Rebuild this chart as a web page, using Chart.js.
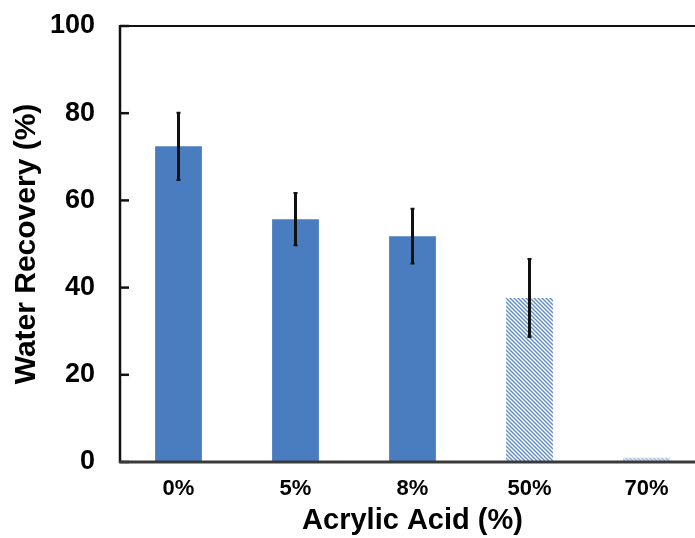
<!DOCTYPE html>
<html><head><meta charset="utf-8">
<script src="https://cdn.jsdelivr.net/npm/chart.js@4"></script>
<style>
html,body{margin:0;padding:0;overflow:hidden;background:#fff;width:695px;height:538px}
#wrap{position:relative;width:712px;height:538px}
canvas{display:block}
</style></head>
<body><div id="wrap"><canvas id="c" width="712" height="538"></canvas></div>
<script>
const categories = ['0%', '5%', '8%', '50%', '70%'];
const recovery = [72.4, 55.7, 51.8, 37.6, 1.0];
const errors = [7.7, 6.0, 6.3, 8.95, null];
const yTicks = [0, 20, 40, 60, 80, 100];
const yTitle = 'Water Recovery (%)';
const xTitle = 'Acrylic Acid (%)';

const FONT = '"Liberation Sans", Arial, sans-serif';
const SOLID = '#4a7dbf';

function hatch(color, bg) {
  const c = document.createElement('canvas');
  c.width = 4; c.height = 4;
  const g = c.getContext('2d');
  g.fillStyle = bg; g.fillRect(0, 0, 4, 4);
  g.strokeStyle = color; g.lineWidth = 1.4;
  g.beginPath();
  g.moveTo(-1, -1); g.lineTo(5, 5);
  g.moveTo(-1, 3); g.lineTo(1, 5);
  g.moveTo(3, -1); g.lineTo(5, 1);
  g.stroke();
  return g.createPattern(c, 'repeat');
}
const fills = [SOLID, SOLID, SOLID, hatch('#5f8dc9', '#ffffff'), hatch('#a9c0e2', '#e8eef7')];

const frame = {
  id: 'frame',
  afterDatasetsDraw(chart) {
    const ctx = chart.ctx, a = chart.chartArea, y = chart.scales.y;
    const meta = chart.getDatasetMeta(0);
    ctx.save();
    ctx.strokeStyle = '#111'; ctx.lineWidth = 3; ctx.lineCap = 'butt';
    errors.forEach((e, i) => {
      if (e == null) return;
      const x = meta.data[i].x;
      const t = y.getPixelForValue(recovery[i] + e), b = y.getPixelForValue(recovery[i] - e);
      ctx.beginPath(); ctx.moveTo(x, t); ctx.lineTo(x, b); ctx.stroke();
      ctx.lineWidth = 2;
      ctx.beginPath(); ctx.moveTo(x - 2, t); ctx.lineTo(x + 2, t);
      ctx.moveTo(x - 2, b); ctx.lineTo(x + 2, b); ctx.stroke();
      ctx.lineWidth = 3;
    });
    ctx.strokeStyle = '#111'; ctx.lineWidth = 2;
    ctx.beginPath(); ctx.moveTo(a.left, a.top); ctx.lineTo(chart.width, a.top); ctx.stroke();
    ctx.lineWidth = 2.5;
    ctx.beginPath(); ctx.moveTo(a.left, a.top - 1); ctx.lineTo(a.left, a.bottom + 1); ctx.stroke();
    yTicks.forEach(v => {
      const py = y.getPixelForValue(v);
      ctx.beginPath(); ctx.moveTo(a.left, py); ctx.lineTo(a.left + 9, py); ctx.stroke();
    });
    ctx.strokeStyle = '#3a3a3a'; ctx.lineWidth = 3;
    ctx.beginPath(); ctx.moveTo(a.left - 1, a.bottom); ctx.lineTo(chart.width, a.bottom); ctx.stroke();
    ctx.restore();
  }
};

new Chart(document.getElementById('c'), {
  type: 'bar',
  data: {
    labels: categories,
    datasets: [{
      data: recovery,
      backgroundColor: fills,
      borderWidth: 0,
      barPercentage: 0.4,
      categoryPercentage: 1.0
    }]
  },
  options: {
    responsive: false,
    animation: false,
    devicePixelRatio: 1,
    layout: { padding: { left: 0, top: 26, right: 7, bottom: 0 } },
    plugins: { legend: { display: false }, tooltip: { enabled: false } },
    scales: {
      x: {
        grid: { display: false, drawTicks: false },
        border: { display: false },
        ticks: { color: '#000', font: { family: FONT, size: 22, weight: 'bold' }, padding: 14, maxRotation: 0 },
        title: { display: true, text: xTitle, color: '#000', font: { family: FONT, size: 29, weight: 'bold', lineHeight: 1.2 }, padding: 0 },
        afterFit(s) { s.height = 76; s.paddingLeft = 0; s.paddingRight = 0; }
      },
      y: {
        min: 0, max: 100,
        afterBuildTicks(s) { s.ticks = yTicks.map(v => ({ value: v })); },
        grid: { display: false, drawTicks: false },
        border: { display: false },
        ticks: { color: '#000', font: { family: FONT, size: 27, weight: 'bold' }, padding: 25 },
        title: { display: true, text: yTitle, color: '#000', font: { family: FONT, size: 30, weight: 'bold', lineHeight: 1.2 }, padding: { top: 9, bottom: 0 } },
        afterFit(s) { s.width = 120; s.paddingTop = 0; s.paddingBottom = 0; }
      }
    }
  },
  plugins: [frame]
});
</script>
</body></html>
